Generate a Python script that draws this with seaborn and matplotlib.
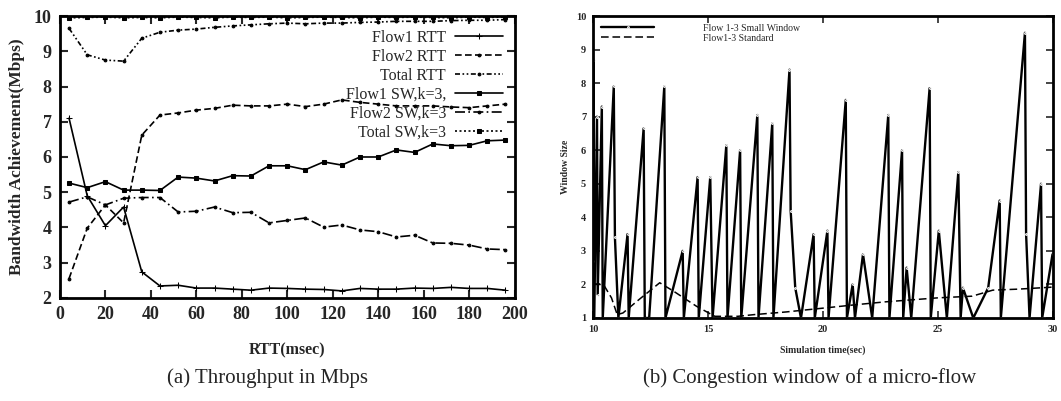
import matplotlib
matplotlib.use("Agg")
import matplotlib.pyplot as plt
import seaborn as sns

# ---- panel (a): throughput vs RTT ----
rtt = [4, 12, 20, 28, 36, 44, 52, 60, 68, 76, 84, 92, 100, 108, 116, 124,
       132, 140, 148, 156, 164, 172, 180, 188, 196]
flow1_rtt = [7.1, 4.9, 4.05, 4.58, 2.74, 2.34, 2.36, 2.28, 2.28, 2.25, 2.22, 2.28, 2.27,
             2.25, 2.24, 2.2, 2.27, 2.25, 2.25, 2.28, 2.27, 2.3, 2.27, 2.27, 2.22]
flow2_rtt = [2.55, 3.98, 4.64, 4.13, 6.62, 7.19, 7.25, 7.33, 7.38, 7.47, 7.45, 7.45, 7.5,
             7.43, 7.5, 7.62, 7.55, 7.5, 7.45, 7.45, 7.45, 7.42, 7.4, 7.45, 7.5]
total_rtt = [9.65, 8.9, 8.75, 8.72, 9.37, 9.54, 9.6, 9.63, 9.68, 9.72, 9.75, 9.78, 9.8,
             9.78, 9.8, 9.8, 9.82, 9.83, 9.85, 9.85, 9.85, 9.87, 9.88, 9.88, 9.9]
flow1_sw = [5.26, 5.13, 5.3, 5.06, 5.06, 5.05, 5.43, 5.4, 5.32, 5.47, 5.46, 5.75, 5.75,
            5.64, 5.86, 5.77, 6.0, 6.0, 6.2, 6.13, 6.37, 6.32, 6.33, 6.46, 6.48]
flow2_sw = [4.72, 4.87, 4.64, 4.83, 4.85, 4.85, 4.44, 4.46, 4.58, 4.42, 4.43, 4.13, 4.2,
            4.27, 4.01, 4.07, 3.93, 3.88, 3.73, 3.78, 3.56, 3.55, 3.5, 3.39, 3.37]
total_sw = [9.95, 9.96, 9.97, 9.95, 9.96, 9.95, 9.97, 9.96, 9.95, 9.97, 9.96, 9.97, 9.95,
            9.96, 9.97, 9.96, 9.95, 9.97, 9.96, 9.97, 9.96, 9.95, 9.97, 9.96, 9.97]

# ---- panel (b): congestion window over time ----
sw_time = [10.0, 10.02, 10.05, 10.17, 10.2, 10.38, 10.42, 10.9, 10.95, 11.1, 11.5, 11.55,
           12.2, 12.25, 12.44, 13.1, 13.15, 13.9, 13.95, 14.55, 14.6, 15.1, 15.2, 15.8,
           15.85, 16.4, 16.45, 17.15, 17.2, 17.8, 17.85, 18.55, 18.6, 18.8, 19.05, 19.6,
           19.65, 20.2, 20.25, 21.0, 21.05, 21.3, 21.4, 21.75, 22.15, 22.85, 22.9, 23.45,
           23.5, 23.65, 23.85, 24.65, 24.7, 25.05, 25.4, 25.9, 26.0, 26.1, 26.55, 27.2,
           27.7, 27.75, 28.8, 28.85, 29.0, 29.5, 29.55, 30.0]
sw_window = [2.7, 8.7, 1.0, 7.0, 1.7, 7.3, 1.0, 7.9, 3.4, 1.0, 3.5, 1.0,
             6.65, 1.0, 1.0, 7.9, 1.0, 3.0, 1.0, 5.2, 1.0, 5.2, 1.0, 6.15,
             1.0, 6.0, 1.0, 7.05, 1.0, 6.8, 1.0, 8.4, 4.2, 1.9, 1.0, 3.5,
             1.0, 3.6, 1.0, 7.5, 1.0, 2.0, 1.0, 2.9, 1.0, 7.05, 1.0, 6.0,
             1.0, 2.5, 1.0, 7.85, 1.0, 3.6, 1.0, 5.35, 1.0, 1.9, 1.0, 1.9,
             4.5, 1.0, 9.5, 3.5, 1.0, 5.0, 1.0, 2.9]
std_time = [10.0, 10.45, 10.8, 11.05, 11.3, 12.0, 12.9, 13.5, 14.5, 15.3, 16.3, 17.0,
            18.4, 20.1, 21.5, 22.7, 25.0, 26.5, 27.4, 28.5, 30.0]
std_window = [2.0, 2.0, 1.6, 1.1, 1.15, 1.55, 2.05, 1.8, 1.35, 1.05, 1.05, 1.1,
              1.18, 1.3, 1.4, 1.48, 1.6, 1.65, 1.83, 1.86, 1.92]

sns.set_style("ticks")
plt.rcParams['font.family'] = ['Liberation Serif', 'DejaVu Serif']

fig = plt.figure(figsize=(10.61, 4.01), dpi=100)
ax1 = fig.add_axes([0.0565, 0.257, 0.4285, 0.703])
ax2 = fig.add_axes([0.559, 0.207, 0.433, 0.753])

# panel (a) series
series = [
    ("Flow1 RTT", flow1_rtt, "-", "+", 4),
    ("Flow2 RTT", flow2_rtt, (0, (4, 2)), ".", 4),
    ("Total RTT", total_rtt, (0, (3, 1.5, 1, 1.5, 1, 1.5)), ".", 4),
    ("Flow1 SW,k=3,", flow1_sw, "-", "s", 3),
    ("Flow2 SW,k=3", flow2_sw, (0, (6, 2, 1, 2)), ".", 4),
    ("Total SW,k=3", total_sw, (0, (1.2, 1.5)), "s", 3),
]
for name, vals, ls, mk, ms in series:
    sns.lineplot(x=rtt, y=vals, ax=ax1, color="black", linewidth=1.2, linestyle=ls,
                 marker=mk, markersize=ms, markeredgecolor="black", label=name,
                 estimator=None, sort=False)

ax1.set_xlim(0, 200)
ax1.set_ylim(2, 10)
ax1.set_xticks(range(0, 201, 20))
ax1.set_yticks(range(2, 11))
ax1.set_xlabel("RTT(msec)", fontsize=11.5, fontweight="bold", labelpad=14)
ax1.set_ylabel("Bandwidth Achievement(Mbps)", fontsize=12.5, fontweight="bold",
               labelpad=6)
ax1.tick_params(direction="in", top=True, right=True, length=6, width=1.5,
                labelsize=13, pad=6)
for lab in ax1.get_xticklabels() + ax1.get_yticklabels():
    lab.set_fontweight("bold")
leg1 = ax1.legend(loc="upper right", bbox_to_anchor=(1.0, 0.99), frameon=False,
                  markerfirst=False, fontsize=11.5, handlelength=3.0,
                  labelspacing=0.18, handletextpad=0.6, borderaxespad=0.3)

# panel (b) series
sns.lineplot(x=sw_time, y=sw_window, ax=ax2, color="black", linewidth=1.7,
             marker=".", markersize=2.5, label="Flow 1-3 Small Window",
             estimator=None, sort=False)
sns.lineplot(x=std_time, y=std_window, ax=ax2, color="black", linewidth=1.1,
             linestyle=(0, (5, 2.5)), label="Flow1-3 Standard",
             estimator=None, sort=False)

ax2.set_xlim(10, 30)
ax2.set_ylim(1, 10)
ax2.set_xticks([10, 15, 20, 25, 30])
ax2.set_yticks(range(1, 11))
ax2.set_xlabel("Simulation time(sec)", fontsize=7, fontweight="bold", labelpad=8)
ax2.set_ylabel("Window Size", fontsize=7, fontweight="bold")
ax2.tick_params(direction="in", top=True, right=True, length=5, width=1.2,
                labelsize=7.5, pad=5)
for lab in ax2.get_xticklabels() + ax2.get_yticklabels():
    lab.set_fontweight("bold")
ax2.legend(loc="upper left", frameon=False, fontsize=7, handlelength=5.5,
           labelspacing=0.1, handletextpad=5.0, borderaxespad=0.4)

for ax in (ax1, ax2):
    for sp in ax.spines.values():
        sp.set_visible(True)
        sp.set_linewidth(2.0)
        sp.set_color("black")

fig.text(0.2525, 0.057, "(a) Throughput in Mbps", ha="center", va="center", fontsize=15)
fig.text(0.763, 0.057, "(b) Congestion window of a micro-flow", ha="center",
         va="center", fontsize=15)

fig.savefig("out.png", dpi=100)
